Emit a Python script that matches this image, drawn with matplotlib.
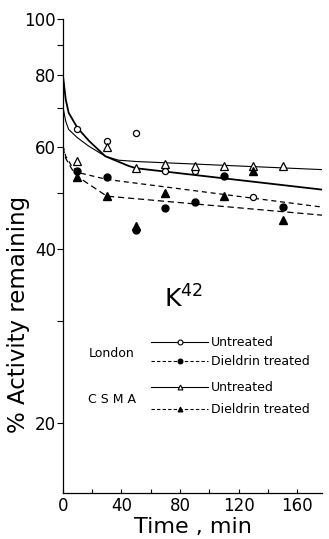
import numpy as np
from matplotlib import pyplot as plt
from matplotlib.ticker import FixedLocator, NullFormatter

# measured points (min, % activity remaining)
times = [10, 30, 50, 70, 90, 110, 130, 150]
london_untreated = [64.5, 61.3, 63.3, 54.6, 54.4, np.nan, 49.2, np.nan]
london_dieldrin = [54.4, 53.3, 43.0, 47.1, 48.1, 53.5, np.nan, 47.3]
csma_untreated = [56.8, 60.0, 55.2, 56.1, 55.5, 55.7, 55.7, 55.7]
csma_dieldrin = [53.3, 49.4, 43.8, 50.0, np.nan, 49.4, 54.4, 44.9]

# fitted curves
lu_fit_t = [0, 2, 4, 10, 18, 29, 45, 50, 177]
lu_fit_v = [80.0, 72.4, 68.7, 64.7, 61.4, 57.8, 55.6, 55.1, 50.6]
cu_fit_t = [0, 2, 4, 10, 18, 29, 38, 50, 177]
cu_fit_v = [70.5, 66.4, 64.3, 62.2, 60.1, 57.8, 56.9, 56.6, 54.8]
ld_fit_t = [0, 2, 6, 10, 30, 177]
ld_fit_v = [60.4, 57.8, 55.6, 54.2, 52.7, 47.2]
cd_fit_t = [0, 2, 6, 10, 30, 177]
cd_fit_v = [60.0, 57.3, 55.0, 53.3, 49.3, 45.7]

fig = plt.figure(figsize=(3.29, 5.39), dpi=100)
ax = fig.add_axes([0.191, 0.0853, 0.788, 0.88])

ax.plot(lu_fit_t, lu_fit_v, '-', color='black', lw=1.3)
ax.plot(cu_fit_t, cu_fit_v, '-', color='black', lw=0.8)
ax.plot(ld_fit_t, ld_fit_v, color='black', lw=0.9, ls=(0, (4, 3)))
ax.plot(cd_fit_t, cd_fit_v, color='black', lw=0.9, ls=(0, (5, 3)))

ax.plot(times, london_untreated, 'o', ms=4.4, mfc='white', mec='black', mew=0.9)
ax.plot(times, csma_untreated, '^', ms=5.2, mfc='white', mec='black', mew=0.9)
ax.plot(times, london_dieldrin, 'o', ms=5, color='black')
ax.plot(times, csma_dieldrin, '^', ms=5.5, color='black')

ax.set_yscale('log')
ax.set_ylim(15.1, 100)
ax.set_xlim(0, 177)
ax.yaxis.set_major_locator(FixedLocator([20, 40, 60, 80, 100]))
ax.yaxis.set_minor_locator(FixedLocator([30, 50, 70, 90]))
ax.yaxis.set_minor_formatter(NullFormatter())
ax.set_yticklabels(['20', '40', '60', '80', '100'])
ax.set_xticks([0, 40, 80, 120, 160])
ax.set_xticks([20, 60, 100, 140], minor=True)

for s in ['top', 'right']:
    ax.spines[s].set_visible(False)
ax.spines['left'].set_linewidth(0.9)
ax.spines['bottom'].set_linewidth(0.9)
ax.tick_params(axis='y', which='both', direction='out', length=4, width=0.8, labelsize=12, pad=1)
ax.tick_params(axis='x', which='both', direction='in', length=3, width=0.8, labelsize=12, pad=3)

ax.set_ylabel('% Activity remaining', fontsize=16.5)
ax.yaxis.set_label_coords(-0.125, 0.376)
ax.set_xlabel('Time , min', fontsize=16, labelpad=1)

ax.text(0.465, 0.41, 'K$^{42}$', transform=ax.transAxes, fontsize=18, ha='center', va='center')

# hand-made legend
def key(y, style, marker, filled):
    ax.plot([0.34, 0.56], [y, y], transform=ax.transAxes, color='black', lw=0.8, ls=style)
    ax.plot([0.45], [y], transform=ax.transAxes, marker=marker, ms=3.5,
            mfc='black' if filled else 'white', mec='black', mew=0.8)

key(0.318, '-', 'o', False)
key(0.278, (0, (3, 2)), 'o', True)
key(0.223, '-', '^', False)
key(0.177, (0, (3, 2)), '^', True)
ax.text(0.57, 0.318, 'Untreated', transform=ax.transAxes, fontsize=9, va='center')
ax.text(0.57, 0.278, 'Dieldrin treated', transform=ax.transAxes, fontsize=9, va='center')
ax.text(0.57, 0.223, 'Untreated', transform=ax.transAxes, fontsize=9, va='center')
ax.text(0.57, 0.177, 'Dieldrin treated', transform=ax.transAxes, fontsize=9, va='center')
ax.text(0.19, 0.295, 'London', transform=ax.transAxes, fontsize=9, ha='center', va='center')
ax.text(0.19, 0.198, 'C S M A', transform=ax.transAxes, fontsize=9, ha='center', va='center')

fig.savefig('out.png', dpi=100)
